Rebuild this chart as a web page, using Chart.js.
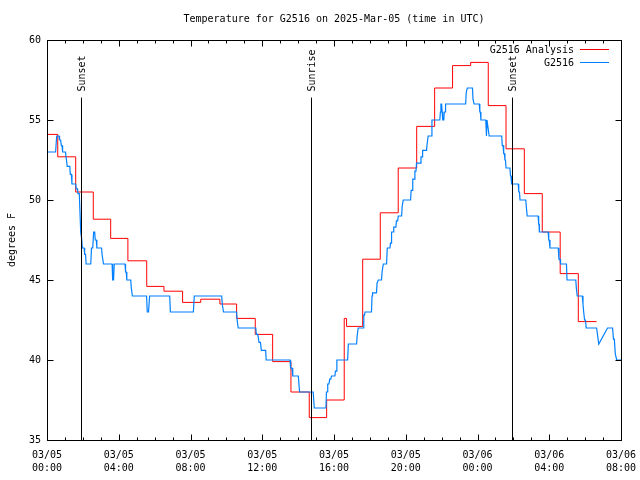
<!DOCTYPE html>
<html>
<head>
<meta charset="utf-8">
<script src="https://cdn.jsdelivr.net/npm/chart.js@4"></script>
<style>
html, body { margin: 0; padding: 0; background: #fff; }
canvas { display: block; }
</style>
</head>
<body>
<canvas id="chart" width="640" height="480"></canvas>
<script>
// hours since 03/05 00:00 UTC
const tickDates = ['03/05', '03/05', '03/05', '03/05', '03/05', '03/05', '03/06', '03/06', '03/06'];
const tickTimes = ['00:00', '04:00', '08:00', '12:00', '16:00', '20:00', '00:00', '04:00', '08:00'];

const eventHours = [1.9, 14.74, 25.94];
const eventNames = ['Sunset', 'Sunrise', 'Sunset'];

// analysis, each value holds until the next time
const analysisHours = [0, 0.6, 1.6, 2.58, 3.55, 4.51, 5.56, 6.52, 7.56, 8.57, 9.64, 10.57, 11.61, 12.58, 13.6, 14.62, 15.59, 16.57, 16.7, 17.6, 18.58, 19.58, 20.61, 21.61, 22.61, 23.62, 24.6, 25.59, 26.61, 27.61, 28.61, 29.62, 30.64];
const analysisTemps = [54.1, 52.7, 50.5, 48.8, 47.6, 46.2, 44.6, 44.3, 43.6, 43.8, 43.5, 42.6, 41.6, 39.9, 38.0, 36.4, 37.5, 42.6, 42.1, 46.3, 49.2, 52.0, 54.6, 57.0, 58.4, 58.6, 55.9, 53.2, 50.4, 48.0, 45.4, 42.4, 42.4];

// station observations
const obsHours = [
  0, 0.48, 0.54, 0.67, 0.7, 0.76, 0.8, 0.84, 0.87, 1.03, 1.06, 1.1, 1.13, 1.27, 1.3, 1.36, 1.39, 1.6, 1.63, 1.7,
  1.73, 1.8, 1.88, 1.93, 1.97, 2.07, 2.1, 2.15, 2.18, 2.44, 2.48, 2.55, 2.6, 2.66, 2.69, 2.75, 2.78, 3.04, 3.07, 3.12,
  3.15, 3.63, 3.66, 3.71, 3.75, 4.35, 4.38, 4.42, 4.45, 4.67, 4.7, 4.73, 4.76, 5.55, 5.59, 5.66, 5.72, 6.84, 6.88, 8.16,
  8.21, 9.74, 9.77, 9.81, 9.84, 10.57, 10.6, 10.63, 10.66, 11.64, 11.67, 11.75, 11.82, 11.9, 11.95, 12.19, 12.22, 13.55, 13.58, 13.66,
  13.7, 14.01, 14.08, 14.84, 14.9, 15.55, 15.58, 15.62, 15.65, 15.72, 15.76, 15.82, 15.86, 16.05, 16.08, 16.12, 16.16, 16.76, 16.8, 17.26,
  17.29, 17.32, 17.35, 17.63, 17.66, 17.7, 17.73, 18.09, 18.12, 18.15, 18.37, 18.4, 18.44, 18.47, 18.65, 18.68, 18.72, 18.75, 18.93, 18.97,
  19.12, 19.15, 19.18, 19.21, 19.3, 19.33, 19.45, 19.48, 19.55, 19.58, 19.77, 19.8, 19.83, 19.86, 20.27, 20.3, 20.36, 20.39, 20.48, 20.51,
  20.57, 20.6, 20.82, 20.85, 20.91, 20.94, 21.16, 21.19, 21.22, 21.25, 21.43, 21.46, 21.9, 21.93, 21.96, 22.0, 22.03, 22.06, 22.12, 22.15,
  22.19, 22.22, 23.34, 23.37, 23.4, 23.43, 23.72, 23.75, 23.78, 23.81, 24.1, 24.13, 24.16, 24.19, 24.46, 24.5, 24.53, 24.56, 24.59, 24.62,
  24.65, 25.35, 25.38, 25.43, 25.46, 25.5, 25.53, 25.56, 25.59, 25.81, 25.84, 25.87, 25.9, 26.27, 26.3, 26.34, 26.37, 26.69, 26.72, 26.74,
  26.77, 27.38, 27.41, 27.43, 27.45, 27.94, 27.97, 28.0, 28.04, 28.5, 28.54, 28.6, 28.63, 28.96, 28.99, 29.48, 29.51, 29.54, 29.56, 29.84,
  29.88, 29.92, 29.97, 30.02, 30.06, 30.64, 30.76, 31.25, 31.53, 31.58, 31.63, 31.68, 31.72, 31.76, 32.0
];
const obsTemps = [
  53.0, 53.0, 54.0, 54.0, 53.75, 53.75, 53.4, 53.4, 53.0, 53.0, 52.7, 52.7, 52.1, 52.1, 51.6, 51.6, 51.0, 51.0, 50.7, 50.7,
  50.4, 50.4, 48.0, 47.6, 47.0, 47.0, 46.6, 46.6, 46.0, 46.0, 47.0, 47.0, 48.0, 48.0, 47.5, 47.5, 47.0, 47.0, 46.6, 46.6,
  46.0, 46.0, 45.0, 45.0, 46.0, 46.0, 45.5, 45.5, 45.0, 45.0, 44.5, 44.5, 44.0, 44.0, 43.0, 43.0, 44.0, 44.0, 43.0, 43.0,
  44.0, 44.0, 43.5, 43.5, 43.0, 43.0, 42.5, 42.5, 42.0, 42.0, 41.6, 41.6, 41.1, 41.1, 40.6, 40.6, 40.0, 40.0, 39.5, 39.5,
  39.0, 39.0, 38.0, 38.0, 37.0, 37.0, 38.0, 38.0, 38.5, 38.5, 38.8, 38.8, 39.0, 39.0, 39.3, 39.3, 40.0, 40.0, 41.0, 41.0,
  41.5, 41.5, 42.0, 42.0, 42.8, 42.8, 43.0, 43.0, 44.0, 44.2, 44.2, 44.8, 44.8, 45.0, 45.0, 45.5, 45.5, 46.0, 46.0, 47.0,
  47.0, 47.3, 47.3, 48.0, 48.0, 48.3, 48.3, 48.7, 48.7, 49.0, 49.0, 49.6, 49.6, 50.0, 50.0, 50.6, 50.6, 51.3, 51.3, 51.8,
  51.8, 52.3, 52.3, 52.7, 52.7, 53.1, 53.1, 53.5, 53.5, 54.0, 54.0, 55.0, 55.0, 55.5, 56.0, 56.0, 55.5, 55.0, 55.0, 55.5,
  55.5, 56.0, 56.0, 56.7, 56.7, 57.0, 57.0, 56.3, 56.3, 56.0, 56.0, 55.5, 55.5, 55.0, 55.0, 54.0, 55.0, 55.0, 54.5, 54.5,
  54.0, 54.0, 53.4, 53.4, 52.9, 52.9, 52.5, 52.5, 52.0, 52.0, 51.5, 51.5, 51.0, 51.0, 50.5, 50.5, 50.0, 50.0, 49.6, 49.6,
  49.0, 49.0, 48.5, 48.5, 48.0, 48.0, 47.5, 47.5, 47.0, 47.0, 46.3, 46.3, 46.0, 46.0, 45.0, 45.0, 44.5, 44.5, 44.0, 44.0,
  43.5, 43.0, 42.5, 42.5, 42.0, 42.0, 41.0, 42.0, 42.0, 41.3, 41.3, 40.4, 40.4, 40.0, 40.0
];

const monoFont = { family: '"DejaVu Sans Mono", "Liberation Mono", monospace', size: 10 };
const markerTop = 56.4;

const gnuplotFrame = {
    id: 'gnuplotFrame',
    afterDatasetsDraw(chart) {
        const { ctx, chartArea: a, scales: { x, y } } = chart;
        const px = v => Math.round(v) + 0.5;
        ctx.save();
        ctx.strokeStyle = '#000';
        ctx.lineWidth = 1;
        ctx.beginPath();

        // inward ticks, hourly minors on x
        for (let h = 0; h <= 32; h++) {
            const xp = px(x.getPixelForValue(h));
            const len = h % 4 === 0 ? 6 : 3;
            ctx.moveTo(xp, px(a.bottom)); ctx.lineTo(xp, px(a.bottom) - len);
            ctx.moveTo(xp, px(a.top)); ctx.lineTo(xp, px(a.top) + len);
        }
        for (let t = 35; t <= 60; t += 5) {
            const yp = px(y.getPixelForValue(t));
            ctx.moveTo(px(a.left), yp); ctx.lineTo(px(a.left) + 6, yp);
            ctx.moveTo(px(a.right), yp); ctx.lineTo(px(a.right) - 6, yp);
        }

        // sunset / sunrise markers
        eventHours.forEach(h => {
            const xp = px(x.getPixelForValue(h));
            ctx.moveTo(xp, y.getPixelForValue(markerTop));
            ctx.lineTo(xp, a.bottom);
        });
        ctx.stroke();
        ctx.strokeRect(px(a.left), px(a.top), Math.round(a.right - a.left), Math.round(a.bottom - a.top));

        ctx.fillStyle = '#000';
        ctx.font = '10px ' + monoFont.family;
        ctx.textBaseline = 'middle';
        eventHours.forEach((h, i) => {
            ctx.save();
            ctx.translate(x.getPixelForValue(h) + 1, y.getPixelForValue(markerTop) - 6);
            ctx.rotate(-Math.PI / 2);
            ctx.textAlign = 'left';
            ctx.fillText(eventNames[i], 0, 0);
            ctx.restore();
        });

        // legend, text left of the line sample
        const items = [['G2516 Analysis', '#ff0000'], ['G2516', '#0080ff']];
        items.forEach((it, i) => {
            const yy = a.top + 9 + i * 13;
            ctx.textAlign = 'right';
            ctx.fillStyle = '#000';
            ctx.fillText(it[0], a.right - 47, yy + 1);
            ctx.strokeStyle = it[1];
            ctx.beginPath();
            ctx.moveTo(a.right - 41, Math.round(yy) + 0.5);
            ctx.lineTo(a.right - 12, Math.round(yy) + 0.5);
            ctx.stroke();
        });
        ctx.restore();
    }
};

new Chart(document.getElementById('chart'), {
    type: 'line',
    data: {
        datasets: [{
            label: 'G2516 Analysis',
            data: analysisHours.map((h, i) => ({ x: h, y: analysisTemps[i] })),
            borderColor: '#ff0000',
            borderWidth: 1,
            pointRadius: 0,
            stepped: true,
            order: 2
        }, {
            label: 'G2516',
            data: obsHours.map((h, i) => ({ x: h, y: obsTemps[i] })),
            borderColor: '#0080ff',
            borderWidth: 1.2,
            pointRadius: 0,
            tension: 0,
            order: 1
        }]
    },
    options: {
        responsive: false,
        animation: false,
        devicePixelRatio: 1,
        layout: { padding: { left: 28, right: 0, top: 0, bottom: 0 } },
        plugins: {
            legend: { display: false },
            tooltip: { enabled: false },
            title: {
                display: true,
                text: 'Temperature for G2516 on 2025-Mar-05 (time in UTC)',
                color: '#000',
                font: { family: monoFont.family, size: 10, weight: 'normal' },
                padding: { top: 13, bottom: 15 }
            }
        },
        scales: {
            x: {
                type: 'linear',
                min: 0,
                max: 32,
                grid: { display: false, drawTicks: false },
                border: { display: false },
                ticks: {
                    stepSize: 4,
                    autoSkip: false,
                    maxRotation: 0,
                    color: '#000',
                    padding: 9,
                    font: { family: monoFont.family, size: 10, lineHeight: 1.3 },
                    callback: v => [tickDates[v / 4], tickTimes[v / 4]]
                },
                afterFit: s => { s.height = 40; s.paddingLeft = 0; s.paddingRight = 0; }
            },
            y: {
                min: 35,
                max: 60,
                grid: { display: false, drawTicks: false },
                border: { display: false },
                ticks: {
                    stepSize: 5,
                    color: '#000',
                    padding: 6,
                    font: monoFont
                },
                title: {
                    display: true,
                    text: 'degrees F',
                    color: '#000',
                    font: monoFont,
                    padding: { top: -22, bottom: 0 }
                },
                afterFit: s => { s.width = 19; }
            },
            y2: {
                position: 'right',
                min: 35,
                max: 60,
                grid: { display: false, drawTicks: false },
                border: { display: false },
                ticks: { display: false },
                afterFit: s => { s.width = 19; }
            }
        }
    },
    plugins: [gnuplotFrame]
});
</script>
</body>
</html>
